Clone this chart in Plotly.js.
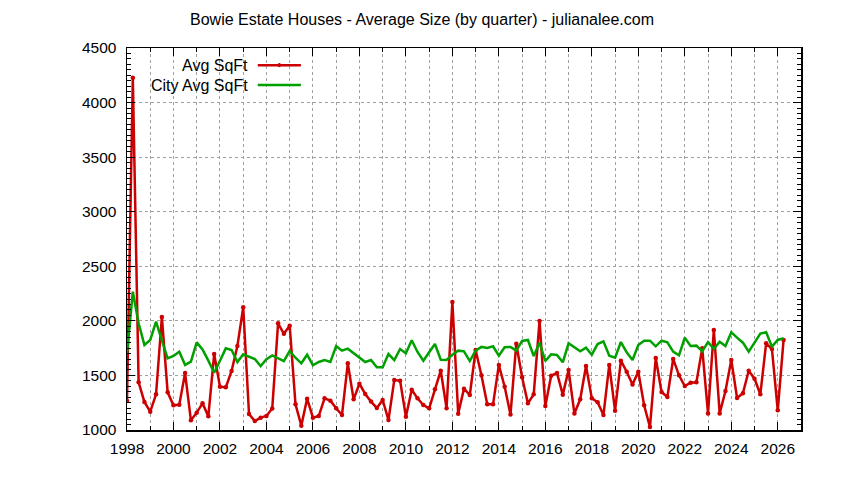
<!DOCTYPE html>
<html>
<head>
<meta charset="utf-8">
<script src="https://cdn.plot.ly/plotly-3.0.1.min.js"></script>
<style>
  html, body { margin: 0; padding: 0; background: #fff; }
  #chart { width: 844px; height: 480px; }
</style>
</head>
<body>
<div id="chart"></div>
<script>
// quarterly series, first quarter is 1998 Q1
const startYear = 1998;

const avgSqft = [
  1266, 4228, 1437, 1257,
  1168, 1327, 2035, 1345,
  1226, 1232, 1522, 1089,
  1159, 1244, 1125, 1696,
  1397, 1391, 1541, 1770,
  2124, 1147, 1082, 1113,
  1128, 1198, 1977, 1882,
  1956, 1235, 1040, 1287,
  1113, 1128, 1290, 1269,
  1199, 1137, 1611, 1281,
  1424, 1330, 1260, 1202,
  1275, 1092, 1458, 1452,
  1122, 1369, 1290, 1229,
  1199, 1373, 1543, 1199,
  2173, 1150, 1379, 1321,
  1733, 1501, 1235, 1235,
  1596, 1397, 1141, 1791,
  1483, 1244, 1327, 1999,
  1220, 1498, 1522, 1324,
  1550, 1152, 1281, 1586,
  1290, 1254, 1137, 1596,
  1177, 1635, 1534, 1416,
  1534, 1226, 1027, 1660,
  1348, 1302, 1651, 1501,
  1403, 1434, 1437, 1748,
  1152, 1916, 1152, 1357,
  1641, 1293, 1336, 1543,
  1470, 1327, 1794, 1742,
  1180, 1825
];

const cityAvgSqft = [
  1700, 2267, 1978, 1779,
  1825, 1992, 1820, 1657,
  1678, 1717, 1596, 1626,
  1803, 1739, 1635, 1525,
  1635, 1748, 1733, 1623,
  1694, 1672, 1650, 1586,
  1648, 1684, 1657, 1632,
  1724, 1662, 1611, 1690,
  1593, 1623, 1641, 1623,
  1770, 1727, 1745, 1703,
  1660, 1623, 1641, 1574,
  1574, 1696, 1641, 1742,
  1703, 1822, 1715, 1635,
  1712, 1788, 1644, 1641,
  1690, 1727, 1721, 1632,
  1727, 1761, 1751, 1767,
  1681, 1758, 1761, 1727,
  1816, 1825, 1678, 1800,
  1632, 1693, 1687, 1620,
  1794, 1761, 1721, 1754,
  1690, 1788, 1812, 1681,
  1663, 1806, 1712, 1641,
  1779, 1818, 1818, 1767,
  1818, 1803, 1718, 1684,
  1846, 1770, 1773, 1721,
  1806, 1742, 1809, 1770,
  1895, 1846, 1800, 1718,
  1803, 1883, 1895, 1764,
  1825, 1840
];

const seriesNames = ['Avg SqFt', 'City Avg SqFt'];
const yearTicks = [1998, 2000, 2002, 2004, 2006, 2008, 2010, 2012, 2014, 2016, 2018, 2020, 2022, 2024, 2026];

const quarters = avgSqft.map((_, i) => startYear + i / 4);

const RED = '#cc0000';
const GREEN = '#00a000';
const FONT = 'Liberation Sans, Arial, sans-serif';

const data = [
  {
    x: quarters, y: avgSqft, name: seriesNames[0],
    mode: 'lines+markers',
    line: {color: RED, width: 2.5},
    marker: {color: RED, size: 4.5},
    showlegend: false
  },
  {
    x: quarters, y: cityAvgSqft, name: seriesNames[1],
    mode: 'lines',
    line: {color: GREEN, width: 2.5},
    showlegend: false
  }
];

// legend drawn by hand: text on the left, line sample on the right
const legendRows = [0.955, 0.903];
const annotations = seriesNames.map((n, i) => ({
  xref: 'paper', yref: 'paper', x: 0.182, y: legendRows[i],
  xanchor: 'right', yanchor: 'middle', showarrow: false,
  text: n, font: {family: FONT, size: 16, color: '#000'}
}));
const shapes = [
  {type: 'line', xref: 'paper', yref: 'paper', x0: 0.194, x1: 0.258, y0: legendRows[0], y1: legendRows[0], line: {color: RED, width: 2.5}},
  {type: 'line', xref: 'paper', yref: 'paper', x0: 0.194, x1: 0.258, y0: legendRows[1], y1: legendRows[1], line: {color: GREEN, width: 2.5}},
  {type: 'circle', xref: 'paper', yref: 'paper', x0: 0.2235, x1: 0.2285, y0: legendRows[0] - 0.0055, y1: legendRows[0] + 0.0055, fillcolor: RED, line: {color: RED, width: 0}}
];

const layout = {
  width: 844, height: 480,
  margin: {l: 127, r: 43, t: 48, b: 50},
  paper_bgcolor: '#fff', plot_bgcolor: '#fff',
  font: {family: FONT, size: 15.5, color: '#000'},
  title: {
    text: 'Bowie Estate Houses - Average Size (by quarter) - julianalee.com',
    font: {family: FONT, size: 16, color: '#000'},
    xref: 'container', x: 0.5, xanchor: 'center',
    yref: 'container', y: 1 - 19 / 480, yanchor: 'middle'
  },
  xaxis: {
    range: [1998, 2027],
    tickvals: yearTicks, ticktext: yearTicks.map(String),
    ticks: 'inside', ticklen: 8, tickcolor: '#000', tickwidth: 1,
    showline: true, linecolor: '#000', linewidth: 1.5, mirror: 'ticks',
    showgrid: true, gridcolor: '#a0a0a0', griddash: 'dot', gridwidth: 1,
    zeroline: false,
    minor: {dtick: 1, tick0: 1998, ticks: 'inside', ticklen: 4, tickcolor: '#000',
            showgrid: true, gridcolor: '#a0a0a0', griddash: 'dot', gridwidth: 1},
    ticklabelstandoff: 4
  },
  yaxis: {
    range: [1000, 4500], dtick: 500, tick0: 1000,
    ticks: 'inside', ticklen: 8, tickcolor: '#000', tickwidth: 1,
    showline: true, linecolor: '#000', linewidth: 1.5, mirror: 'ticks',
    showgrid: true, gridcolor: '#a0a0a0', griddash: 'dot', gridwidth: 1,
    zeroline: false,
    minor: {dtick: 50, ticks: 'inside', ticklen: 4, tickcolor: '#000', showgrid: false},
    ticklabelstandoff: 6
  },
  annotations: annotations,
  shapes: shapes
};

Plotly.newPlot('chart', data, layout, {staticPlot: true, displayModeBar: false});
</script>
</body>
</html>
